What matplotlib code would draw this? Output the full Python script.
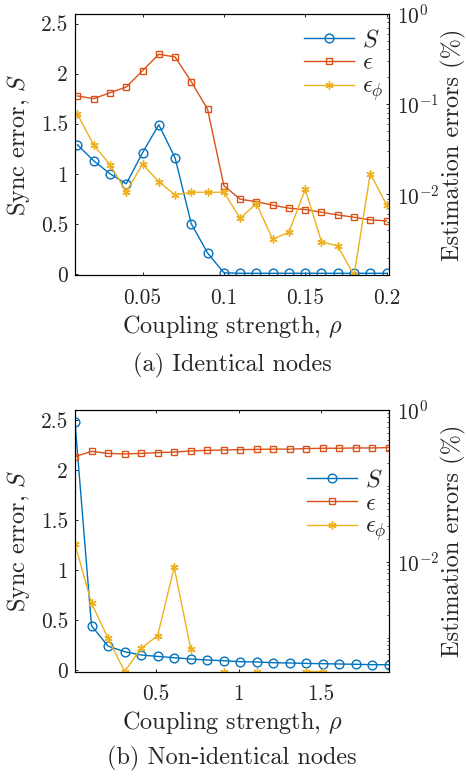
import numpy as np
import matplotlib
matplotlib.use('Agg')
import matplotlib.pyplot as plt
from matplotlib.ticker import FixedLocator, NullFormatter, FixedFormatter
from matplotlib.lines import Line2D

plt.rcParams['font.family'] = ['cmr10', 'DejaVu Serif']
plt.rcParams['mathtext.fontset'] = 'cm'
plt.rcParams['axes.unicode_minus'] = False
plt.rcParams['axes.formatter.use_mathtext'] = True

# ---------------- data: (a) identical nodes ----------------
rho_a = [0.01, 0.02, 0.03, 0.04, 0.05, 0.06, 0.07, 0.08, 0.09, 0.10,
         0.11, 0.12, 0.13, 0.14, 0.15, 0.16, 0.17, 0.18, 0.19, 0.20]
S_a = [1.29, 1.13, 1.00, 0.90, 1.21, 1.49, 1.16, 0.50, 0.21, 0.012,
       0.007, 0.007, 0.007, 0.007, 0.007, 0.007, 0.007, 0.007, 0.007, 0.007]
eps_a = [0.1226, 0.1145, 0.133, 0.154, 0.233, 0.354, 0.331, 0.176, 0.0874, 0.0125,
         0.00885, 0.00832, 0.0076, 0.00705, 0.0068, 0.00636, 0.00593, 0.0056, 0.00523, 0.0051]
epsphi_a = [0.0769, 0.0352, 0.0213, 0.01074, 0.0216, 0.01384, 0.00987, 0.01057, 0.01057, 0.01057,
            0.00546, 0.00791, 0.0032, 0.00382, 0.0114, 0.0030, 0.0027, 0.00127, 0.0170, 0.00766]

# ---------------- data: (b) non-identical nodes ----------------
rho_b = [0.01, 0.11, 0.21, 0.31, 0.41, 0.51, 0.61, 0.71, 0.81, 0.91,
         1.01, 1.11, 1.21, 1.31, 1.41, 1.51, 1.61, 1.71, 1.81, 1.91]
S_b = [2.477, 0.442, 0.239, 0.183, 0.150, 0.136, 0.123, 0.110, 0.100, 0.093,
       0.083, 0.080, 0.073, 0.070, 0.066, 0.063, 0.060, 0.057, 0.053, 0.053]
eps_b = [0.2425, 0.285, 0.268, 0.263, 0.268, 0.274, 0.279, 0.288, 0.294, 0.297,
         0.300, 0.303, 0.305, 0.305, 0.310, 0.313, 0.313, 0.316, 0.316, 0.320]
epsphi_b = [0.0171, 0.00283, 0.00098, 0.000357, 0.00072, 0.00106, 0.00844, 0.000713, np.nan, 0.000357,
            np.nan, 0.000357, np.nan, np.nan, 0.000357, 0.000357, np.nan, np.nan, np.nan, np.nan]

xticks_a = [0.05, 0.1, 0.15, 0.2]
xticklabels_a = ['0.05', '0.1', '0.15', '0.2']
xticks_b = [0.5, 1, 1.5]
xticklabels_b = ['0.5', '1', '1.5']
yticks_left = [0, 0.5, 1, 1.5, 2, 2.5]
yticklabels_left = ['0', '0.5', '1', '1.5', '2', '2.5']
legend_labels = [r'$S$', r'$\epsilon$', r'$\epsilon_\phi$']

C_BLUE = '#0072BD'
C_ORANGE = '#D95319'
C_YELLOW = '#EDB120'
TXT = '#262626'
FS_TICK = 15.4
FS_LAB = 17.5

W, H = 466, 781
fig = plt.figure(figsize=(W / 100, H / 100), dpi=100)


def px_axes(left, top, right, bottom):
    return fig.add_axes([left / W, 1 - bottom / H, (right - left) / W, (bottom - top) / H])


def minor_log(lo_exp, hi_exp, majors):
    vals = []
    for e in range(lo_exp, hi_exp + 1):
        for k in range(1, 10):
            v = k * 10.0 ** e
            if not any(abs(v - m) / m < 1e-9 for m in majors):
                vals.append(v)
    return vals


def make_panel(top, bottom, rho, S, eps, ephi, xlim, xt, xtl, rylim, rmajor, rmajor_lbl,
               leg_anchor, caption, xlab_y, cap_y):
    ax = px_axes(75, top, 389, bottom)
    ax2 = ax.twinx()
    ax.plot(rho, S, color=C_BLUE, lw=1.0, marker='o', ms=6.3, mfc='none', mew=1.0)
    ax2.plot(rho, eps, color=C_ORANGE, lw=1.0, marker='s', ms=4.3, mfc='none', mew=1.0)
    ax2.plot(rho, ephi, color=C_YELLOW, lw=1.0, marker=(6, 2, 0), ms=6.0, mew=1.0)

    ax.set_xlim(*xlim)
    ax.set_ylim(-0.015, 2.6)
    ax.set_xticks(xt)
    ax.set_xticklabels(xtl)
    ax.set_yticks(yticks_left)
    ax.set_yticklabels(yticklabels_left)
    ax2.set_yscale('log')
    ax2.set_ylim(*rylim)
    ax2.yaxis.set_major_locator(FixedLocator(rmajor))
    ax2.yaxis.set_major_formatter(FixedFormatter(rmajor_lbl))
    ax2.yaxis.set_minor_locator(FixedLocator(minor_log(-4, 0, rmajor)))
    ax2.yaxis.set_minor_formatter(NullFormatter())

    for a in (ax, ax2):
        for sp in a.spines.values():
            sp.set_linewidth(0.8)
            sp.set_color('black')
    ax.tick_params(axis='x', direction='in', top=True, bottom=True, length=2.5, width=0.6,
                   labelsize=FS_TICK, labelcolor=TXT, pad=9)
    ax.tick_params(axis='y', direction='in', left=True, right=False, length=2.5, width=0.6,
                   labelsize=FS_TICK, labelcolor=TXT, pad=5)
    ax2.tick_params(axis='y', which='major', direction='in', length=2.5, width=0.6,
                    labelsize=FS_TICK, labelcolor=TXT, pad=6)
    ax2.tick_params(axis='y', which='minor', direction='in', length=1.4, width=0.5)

    ax.set_ylabel(r'Sync error, $S$', fontsize=FS_LAB, color=TXT, va='center')
    ax.yaxis.set_label_coords(-(75 - 18) / 314, 0.5)
    ax2.set_ylabel('Estimation errors (%)', fontsize=FS_LAB, color=TXT, va='center')
    ax2.yaxis.set_label_coords((453 - 75) / 314, 0.5)

    fig.text(232 / W, 1 - xlab_y / H, r'Coupling strength, $\rho$', fontsize=FS_LAB, color=TXT,
             ha='center', va='center')
    fig.text(232 / W, 1 - cap_y / H, caption, fontsize=FS_LAB, color=TXT, ha='center', va='center')

    handles = [
        Line2D([], [], color=C_BLUE, lw=1.0, marker='o', ms=6.3, mfc='none', mew=1.0),
        Line2D([], [], color=C_ORANGE, lw=1.0, marker='s', ms=4.3, mfc='none', mew=1.0),
        Line2D([], [], color=C_YELLOW, lw=1.0, marker=(6, 2, 0), ms=6.0, mew=1.0),
    ]
    ax2.legend(handles, legend_labels, loc='upper left',
               bbox_to_anchor=leg_anchor, frameon=False, fontsize=FS_LAB, handlelength=2.05,
               handletextpad=0.35, labelspacing=0.05, borderpad=0, borderaxespad=0,
               labelcolor=TXT)
    return ax, ax2


make_panel(13.5, 275.5, rho_a, S_a, eps_a, epsphi_a, (0.0085, 0.2015), xticks_a, xticklabels_a,
           (0.00127, 1.0), [1e-2, 1e-1, 1e0], ['$10^{-2}$', '$10^{-1}$', '$10^{0}$'],
           (0.729, 0.94), '(a) Identical nodes', 327, 365)
make_panel(410, 671.5, rho_b, S_b, eps_b, epsphi_b, (0.01, 1.91), xticks_b, xticklabels_b,
           (0.000357, 1.0), [1e-2, 1e0], ['$10^{-2}$', '$10^{0}$'],
           (0.739, 0.773), '(b) Non-identical nodes', 723, 758)

fig.savefig('out.png', dpi=100)
